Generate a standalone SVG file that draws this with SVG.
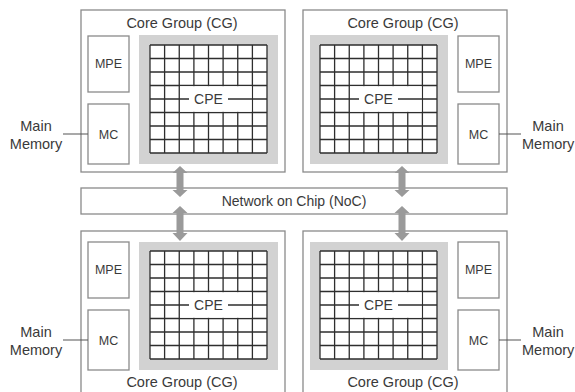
<svg xmlns="http://www.w3.org/2000/svg" xmlns:xlink="http://www.w3.org/1999/xlink" width="575" height="392" viewBox="0 0 575 392">
<style>
text{font-family:"Liberation Sans","Noto Sans",Arial,sans-serif;fill:#3a3a3a}
.box{fill:#fff;stroke:#8a8a8a;stroke-width:1.3}
.gray{fill:#d2d2d2}
.grid{fill:none;stroke:#2e2e2e;stroke-width:1.3}
.t15{font-size:14.5px}
.t12{font-size:12.5px}
.t14{font-size:14px}
.lnk{stroke:#555;stroke-width:1.1;fill:none}
.arr{fill:#9a9a9a}
</style>
<defs>
<g id="cpegrid">
<rect x="0" y="0" width="117" height="108" fill="#fff"/>
<path class="grid" d="M0 0H117M0 13.5H117M0 27H117M0 40.5H117M0 67.5H117M0 81H117M0 94.5H117M0 108H117M0 0V108M14.6 0V108M29.25 0V108M43.9 0V108M58.5 0V108M73.1 0V108M87.75 0V108M102.4 0V108M117 0V108"/>
<rect x="30" y="41.2" width="71.7" height="25.6" fill="#fff"/>
<path class="grid" d="M0 54H39M78 54H117"/>
</g>
</defs>

<g id="cg-top-left">
<rect class="box" x="81" y="10" width="204" height="162"/>
<text class="t15" x="182" y="28" text-anchor="middle">Core Group (CG)</text>
<rect class="box" x="88" y="36" width="41" height="56"/>
<text class="t12" x="108.5" y="68" text-anchor="middle">MPE</text>
<rect class="box" x="88" y="104" width="41" height="60"/>
<text class="t12" x="108.5" y="139" text-anchor="middle">MC</text>
<rect class="gray" x="139" y="35" width="139" height="129"/>
<use xlink:href="#cpegrid" x="150" y="45"/>
<text class="t14" x="208.5" y="104" text-anchor="middle">CPE</text>
</g>

<g id="cg-top-right">
<rect class="box" x="303" y="10" width="204" height="162"/>
<text class="t15" x="403" y="28" text-anchor="middle">Core Group (CG)</text>
<rect class="box" x="458" y="36" width="41" height="56"/>
<text class="t12" x="478.5" y="68" text-anchor="middle">MPE</text>
<rect class="box" x="458" y="104" width="41" height="60"/>
<text class="t12" x="478.5" y="139" text-anchor="middle">MC</text>
<rect class="gray" x="310" y="35" width="138" height="129"/>
<use xlink:href="#cpegrid" x="320" y="45"/>
<text class="t14" x="378.5" y="104" text-anchor="middle">CPE</text>
</g>

<g id="noc">
<rect class="box" x="81" y="188" width="426" height="26"/>
<text class="t14" x="294" y="206" text-anchor="middle">Network on Chip (NoC)</text>
</g>

<g id="cg-bottom-left">
<rect class="box" x="81" y="231" width="204" height="170"/>
<text class="t15" x="182" y="387" text-anchor="middle">Core Group (CG)</text>
<rect class="box" x="88" y="242" width="41" height="56"/>
<text class="t12" x="108.5" y="274" text-anchor="middle">MPE</text>
<rect class="box" x="88" y="310" width="41" height="60"/>
<text class="t12" x="108.5" y="345" text-anchor="middle">MC</text>
<rect class="gray" x="139" y="242" width="139" height="128"/>
<use xlink:href="#cpegrid" x="150" y="251"/>
<text class="t14" x="208.5" y="310" text-anchor="middle">CPE</text>
</g>

<g id="cg-bottom-right">
<rect class="box" x="303" y="231" width="204" height="170"/>
<text class="t15" x="403" y="387" text-anchor="middle">Core Group (CG)</text>
<rect class="box" x="458" y="242" width="41" height="56"/>
<text class="t12" x="478.5" y="274" text-anchor="middle">MPE</text>
<rect class="box" x="458" y="310" width="41" height="60"/>
<text class="t12" x="478.5" y="345" text-anchor="middle">MC</text>
<rect class="gray" x="310" y="242" width="138" height="128"/>
<use xlink:href="#cpegrid" x="320" y="251"/>
<text class="t14" x="378.5" y="310" text-anchor="middle">CPE</text>
</g>

<g id="mem-top-left">
<text class="t15" x="36" y="131" text-anchor="middle">Main</text>
<text class="t15" x="36" y="149" text-anchor="middle">Memory</text>
</g>
<g id="mem-top-right">
<text class="t15" x="548" y="131" text-anchor="middle">Main</text>
<text class="t15" x="522" y="149">Memory</text>
</g>
<g id="mem-bottom-left">
<text class="t15" x="36" y="337" text-anchor="middle">Main</text>
<text class="t15" x="36" y="355" text-anchor="middle">Memory</text>
</g>
<g id="mem-bottom-right">
<text class="t15" x="548" y="337" text-anchor="middle">Main</text>
<text class="t15" x="522" y="355">Memory</text>
</g>

<g id="connectors">
<path class="lnk" d="M63 134H88M499 134H521M63 340H88M499 340H521"/>
<polygon class="arr" points="180,166 187.5,173 183.5,173 183.5,190 187.5,190 180,197 172.5,190 176.5,190 176.5,173 172.5,173"/>
<polygon class="arr" points="402,166 409.5,173 405.5,173 405.5,190 409.5,190 402,197 394.5,190 398.5,190 398.5,173 394.5,173"/>
<polygon class="arr" points="180,206 187.5,213 183.5,213 183.5,233 187.5,233 180,241 172.5,233 176.5,233 176.5,213 172.5,213"/>
<polygon class="arr" points="402,206 409.5,213 405.5,213 405.5,233 409.5,233 402,241 394.5,233 398.5,233 398.5,213 394.5,213"/>
</g>
</svg>
